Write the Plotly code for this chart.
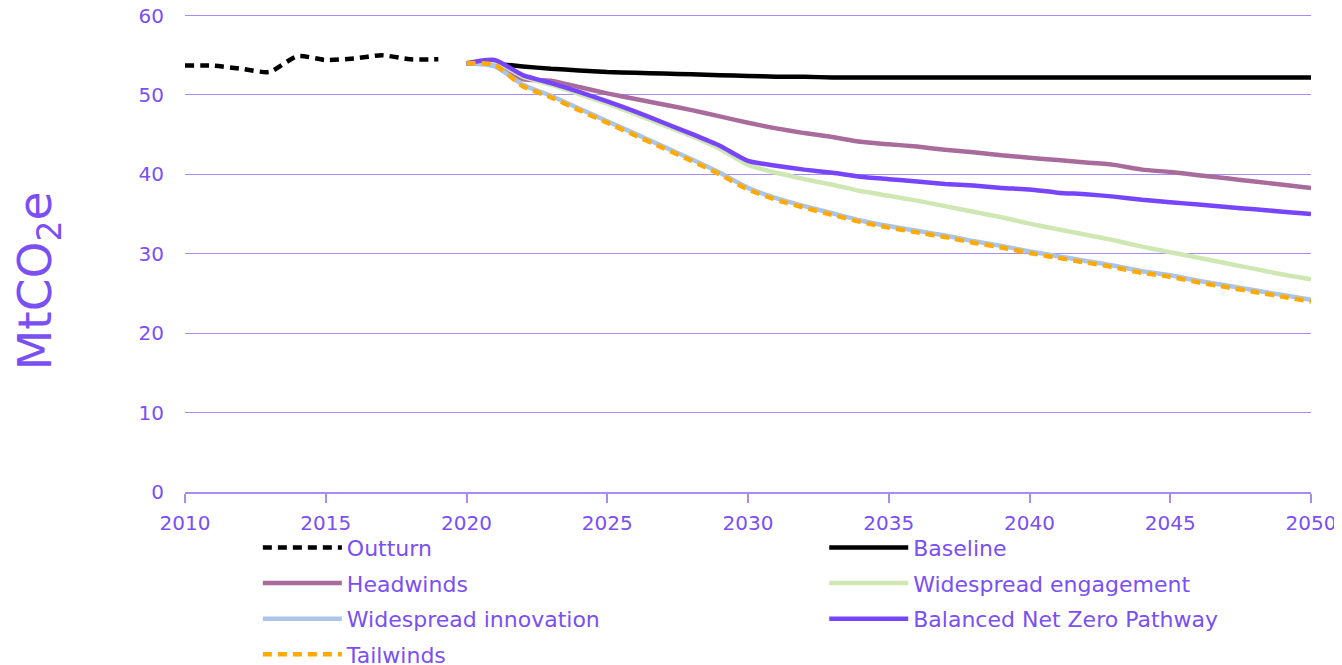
import plotly.graph_objects as go

outturn_years = [2010, 2011, 2012, 2013, 2014, 2015, 2016, 2017, 2018, 2019]
outturn = [53.7, 53.7, 53.3, 52.9, 54.9, 54.4, 54.6, 55.0, 54.5, 54.5]

years = list(range(2020, 2051))
baseline = [54.0, 53.9, 53.6, 53.3, 53.1, 52.9, 52.8, 52.7, 52.6, 52.5, 52.4, 52.3, 52.3,
            52.2, 52.2, 52.2, 52.2, 52.2, 52.2, 52.2, 52.2, 52.2, 52.2, 52.2, 52.2, 52.2,
            52.2, 52.2, 52.2, 52.2, 52.2]
headwinds = [54.0, 54.1, 52.0, 51.8, 51.0, 50.2, 49.5, 48.8, 48.1, 47.3, 46.5, 45.8, 45.2,
             44.7, 44.1, 43.8, 43.5, 43.1, 42.8, 42.4, 42.1, 41.8, 41.5, 41.2, 40.6, 40.3,
             39.9, 39.5, 39.1, 38.7, 38.3]
engagement = [54.0, 54.2, 52.3, 51.3, 50.1, 48.9, 47.6, 46.2, 44.8, 43.2, 41.2, 40.2, 39.4,
              38.7, 37.9, 37.3, 36.7, 36.0, 35.3, 34.6, 33.8, 33.1, 32.4, 31.7, 30.9, 30.2,
              29.5, 28.8, 28.1, 27.4, 26.8]
innovation = [54.0, 53.6, 51.3, 49.9, 48.3, 46.7, 45.1, 43.5, 41.9, 40.2, 38.3, 37.0, 36.0,
              35.1, 34.2, 33.5, 32.9, 32.3, 31.6, 31.0, 30.3, 29.7, 29.1, 28.5, 27.8, 27.3,
              26.6, 26.0, 25.4, 24.8, 24.2]
balanced = [54.0, 54.4, 52.5, 51.5, 50.4, 49.2, 47.9, 46.5, 45.1, 43.6, 41.7, 41.1, 40.6,
            40.2, 39.7, 39.4, 39.1, 38.8, 38.6, 38.3, 38.1, 37.7, 37.5, 37.2, 36.8, 36.5,
            36.2, 35.9, 35.6, 35.3, 35.0]
tailwinds = [54.0, 53.8, 51.1, 49.7, 48.1, 46.5, 44.9, 43.3, 41.7, 40.0, 38.1, 36.8, 35.8,
             34.9, 34.0, 33.3, 32.7, 32.1, 31.4, 30.8, 30.1, 29.5, 28.9, 28.3, 27.6, 27.1,
             26.4, 25.8, 25.2, 24.6, 24.0]

x_ticks = [2010, 2015, 2020, 2025, 2030, 2035, 2040, 2045, 2050]
y_ticks = [0, 10, 20, 30, 40, 50, 60]

TXT = "#7A4FF5"
GRID = "#A68CF8"
FONT = "DejaVu Sans"

fig = go.Figure()

def add(xs, ys, name, color, rank, legend, dash="solid", width=4.5):
    fig.add_trace(go.Scatter(
        x=xs, y=ys, name=name, mode="lines", legendrank=rank, legend=legend,
        legendgroup=name,
        line=dict(color=color, width=width, dash=dash, shape="spline", smoothing=0.6),
        hovertemplate=name + ": %{y}<extra></extra>"))

add(years, baseline, "Baseline", "#000000", 1, "legend2")
add(years, headwinds, "Headwinds", "#A86B9B", 2, "legend")
add(years, engagement, "Widespread engagement", "#CFE7B3", 2, "legend2")
add(years, innovation, "Widespread innovation", "#AAC4EA", 3, "legend")
add(years, balanced, "Balanced Net Zero Pathway", "#7744FF", 3, "legend2")
add(years, tailwinds, "Tailwinds", "#FFAA00", 4, "legend", dash="9px,6px")
add(outturn_years, outturn, "Outturn", "#000000", 1, "legend", dash="9px,6px")

leg_common = dict(
    orientation="v", yanchor="top", y=-0.0725, itemwidth=79,
    font=dict(family=FONT, size=22, color=TXT), tracegroupgap=4,
    bgcolor="rgba(0,0,0,0)", traceorder="grouped", xanchor="left",
)

fig.update_layout(
    width=1334, height=657,
    margin=dict(l=177, r=31, t=6, b=173, autoexpand=False),
    paper_bgcolor="white", plot_bgcolor="white",
    font=dict(family=FONT, color=TXT, size=20),
    showlegend=True,
    legend=dict(leg_common, x=0.0647),
    legend2=dict(leg_common, x=0.5677),
    xaxis=dict(
        range=[2010, 2050], tickvals=x_ticks, ticktext=[str(v) for v in x_ticks],
        showgrid=False, zeroline=False, showline=True, linecolor=GRID, linewidth=1.5,
        ticks="outside", ticklen=9, tickcolor=GRID, tickwidth=1.5, ticklabelstandoff=3,
        tickfont=dict(family=FONT, size=20, color=TXT), automargin=False,
        ticklabeloverflow="allow",
    ),
    yaxis=dict(
        range=[0, 60.2], tickvals=y_ticks, showgrid=True, gridcolor=GRID, gridwidth=1,
        zeroline=False, showline=False, ticks="", ticklabelstandoff=20,
        tickfont=dict(family=FONT, size=20, color=TXT), automargin=False,
        ticklabeloverflow="allow",
    ),
    annotations=[dict(
        text="MtCO<sub>2</sub>e", textangle=-90, xref="paper", yref="paper",
        x=-0.1305, y=0.441, xanchor="center", yanchor="middle", showarrow=False,
        font=dict(family=FONT, size=47, color=TXT),
    )],
)

fig.write_html("out.html")
